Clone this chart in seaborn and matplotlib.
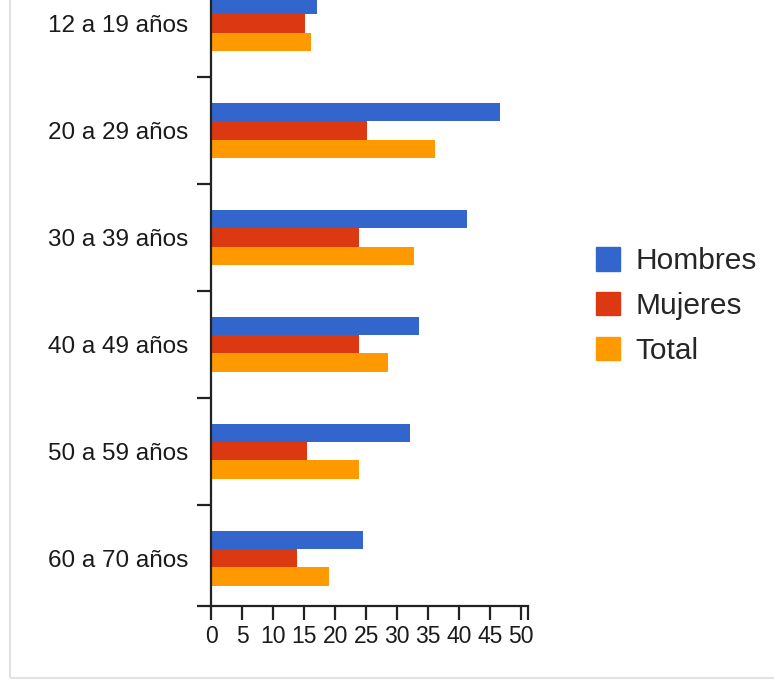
import matplotlib
matplotlib.use('Agg')
import matplotlib.pyplot as plt
import seaborn as sns
import pandas as pd
from matplotlib.patches import Rectangle

# Datos por grupo de edad
grupos = ['12 a 19 años', '20 a 29 años', '30 a 39 años',
          '40 a 49 años', '50 a 59 años', '60 a 70 años']
hombres = [17.1, 46.6, 41.2, 33.5, 32.1, 24.5]
mujeres = [15.1, 25.2, 23.8, 23.8, 15.4, 13.9]
total = [16.1, 36.1, 32.8, 28.5, 23.8, 19.0]
series = ['Hombres', 'Mujeres', 'Total']
colores = ['#3366CC', '#DC3912', '#FF9900']
x_ticks = [0, 5, 10, 15, 20, 25, 30, 35, 40, 45, 50]

df = pd.DataFrame({'grupo': grupos, 'Hombres': hombres,
                   'Mujeres': mujeres, 'Total': total})
df = df.melt(id_vars='grupo', var_name='serie', value_name='valor')

sns.set_style('white')
plt.rcParams['font.family'] = ['Liberation Sans', 'DejaVu Sans']

fig = plt.figure(figsize=(7.74, 6.81), dpi=100)
ax = fig.add_axes([211 / 774, 1 - 606 / 681, (528 - 211) / 774, 606 / 681])

sns.barplot(data=df, x='valor', y='grupo', hue='serie', order=grupos,
            hue_order=series, palette=colores, width=0.515, gap=0,
            orient='h', ax=ax, saturation=1, errorbar=None, linewidth=0)

ax.set_xlim(0, 51.1)
ax.set_ylim(5.448, -0.221)
ax.set_xlabel('')
ax.set_ylabel('')

for s in ['top', 'right']:
    ax.spines[s].set_visible(False)
for s in ['left', 'bottom']:
    ax.spines[s].set_color('#222222')
    ax.spines[s].set_linewidth(1.6)

# eje y: etiquetas sin marca, marcas entre grupos
ax.set_yticks(range(len(grupos)))
ax.set_yticklabels(grupos, fontsize=17.5, color='#1a1a1a')
ax.tick_params(axis='y', which='major', left=True, length=0, pad=16.5)
ax.set_yticks([0.5, 1.5, 2.5, 3.5, 4.5, 5.448], minor=True)
ax.tick_params(axis='y', which='minor', left=True, length=10, width=1.6,
               color='#222222', direction='out')

# eje x
ax.set_xticks(x_ticks)
ax.set_xticklabels([str(t) for t in x_ticks], fontsize=16.5, color='#1a1a1a')
ax.set_xticks([51.1], minor=True)
ax.tick_params(axis='x', which='both', bottom=True, length=10, width=1.6,
               color='#222222', direction='out', pad=4)

ax.legend_.remove()
handles = [Rectangle((0, 0), 1, 1, color=c) for c in colores]
fig.legend(handles, series, loc='center left',
           bbox_to_anchor=(596 / 774, 1 - 306 / 681), frameon=False,
           fontsize=21.5, handlelength=0.82, handleheight=0.82,
           handletextpad=0.5, labelspacing=0.56, borderpad=0,
           borderaxespad=0)

# borde gris del contenedor
fig.patches.append(Rectangle((10 / 774, 3 / 681), 1.2, 1.2,
                             transform=fig.transFigure, fill=False,
                             edgecolor='#e3e3e3', linewidth=1.5))

fig.savefig('out.png', dpi=100)
